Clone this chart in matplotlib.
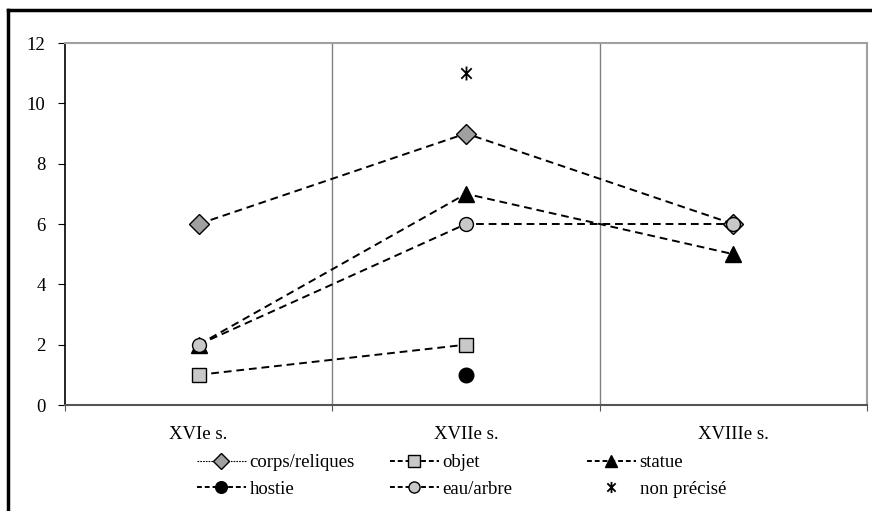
import matplotlib
matplotlib.use("Agg")
import matplotlib.pyplot as plt
from matplotlib.lines import Line2D
from matplotlib.path import Path
import numpy as np

categories = ["XVIe s.", "XVIIe s.", "XVIIIe s."]
corps = [6, 9, 6]
objet = [1, 2, np.nan]
statue = [2, 7, 5]
hostie = [np.nan, 1, np.nan]
eau = [2, 6, 6]
non_precise = [np.nan, 11, np.nan]

plt.rcParams['font.family'] = ['Liberation Serif', 'DejaVu Serif']

fig = plt.figure(figsize=(8.72, 5.11), dpi=100)
W, H = 872, 511
ax = fig.add_axes([65 / W, 1 - 405 / H, (867 - 65) / W, (405 - 43) / H])

star = Path([(0, 1), (0, -1), (-0.75, 0.75), (0.75, -0.75), (-0.75, -0.75), (0.75, 0.75)],
            [Path.MOVETO, Path.LINETO, Path.MOVETO, Path.LINETO, Path.MOVETO, Path.LINETO])

x = np.arange(len(categories)) + 0.5
dash = (0, (4, 2.5))
lw = 1.4
ax.plot(x, corps, ls=dash, color='black', lw=lw, marker='D', ms=10,
        mfc='#a0a0a0', mec='black', mew=1, label='corps/reliques', zorder=3)
ax.plot(x, objet, ls=dash, color='black', lw=lw, marker='s', ms=10,
        mfc='#c8c8c8', mec='black', mew=1, label='objet', zorder=3)
ax.plot(x, statue, ls=dash, color='black', lw=lw, marker='^', ms=11,
        mfc='black', mec='black', mew=1, label='statue', zorder=3)
ax.plot(x, hostie, ls=dash, color='black', lw=lw, marker='o', ms=10.5,
        mfc='black', mec='black', mew=1, label='hostie', zorder=3)
ax.plot(x, eau, ls=dash, color='black', lw=lw, marker='o', ms=10,
        mfc='#c8c8c8', mec='black', mew=1, label='eau/arbre', zorder=4)
ax.plot(x, non_precise, ls='none', color='black', marker=star, ms=10,
        mec='black', mew=1.3, label='non précisé', zorder=3)

ax.set_xlim(0, 3)
ax.set_ylim(0, 12)
ax.set_yticks(np.arange(0, 13, 2))
ax.set_xticks([0, 1, 2, 3])
ax.set_xticklabels([])
ax.set_xticks(x, minor=True)
ax.set_xticklabels(categories, minor=True)
ax.tick_params(axis='x', which='minor', length=0, pad=15, labelsize=13.5)
ax.tick_params(axis='x', which='major', length=4, color='#555555', direction='out')
ax.tick_params(axis='y', length=5, direction='out', labelsize=13.5, pad=9)
for xv in [1, 2]:
    ax.axvline(xv, color='#808080', lw=1, zorder=1)

ax.spines['left'].set_color('black')
ax.spines['left'].set_linewidth(1.2)
ax.spines['bottom'].set_color('#555555')
ax.spines['bottom'].set_linewidth(1.5)
ax.spines['top'].set_color('#a0a0a0')
ax.spines['top'].set_linewidth(1.5)
ax.spines['right'].set_color('#a0a0a0')
ax.spines['right'].set_linewidth(1.5)

handles, labels = ax.get_legend_handles_labels()
columns = [[0, 3], [1, 4], [2, 5]]
col_x = [197, 390, 587]
for ci, idx in enumerate(columns):
    leg = fig.legend([handles[i] for i in idx], [labels[i] for i in idx],
                     loc='center left', bbox_to_anchor=(col_x[ci] / W, 1 - 476 / H),
                     frameon=False, fontsize=13.5, handlelength=2.6, borderpad=0,
                     borderaxespad=0, labelspacing=0.5, handletextpad=0.2,
                     markerscale=0.8)
    for ln in leg.get_lines():
        if ln.get_linestyle() != 'None':
            ln.set_linestyle((0, (2.5, 1.5)))
    if ci == 0:
        leg.get_lines()[0].set_linewidth(0.8)
        leg.get_lines()[0].set_linestyle((0, (1.5, 1)))

# outer border
fig.add_artist(Line2D([8 / W, 8 / W], [0, 1 - 10 / H], color='black', lw=2.5,
                      transform=fig.transFigure))
fig.add_artist(Line2D([8 / W, 1], [1 - 10 / H, 1 - 10 / H], color='black', lw=2.5,
                      transform=fig.transFigure))

fig.savefig("out.png", dpi=100)
